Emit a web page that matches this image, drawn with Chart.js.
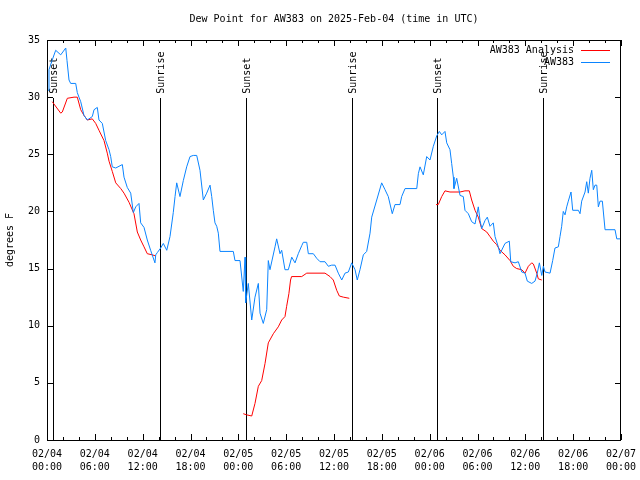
<!DOCTYPE html>
<html>
<head>
<meta charset="utf-8">
<script src="https://cdn.jsdelivr.net/npm/chart.js@4/dist/chart.umd.min.js"></script>
<style>
  html, body { margin: 0; padding: 0; background: #fff; }
  #wrap { width: 640px; height: 480px; }
</style>
</head>
<body>
<div id="wrap"><canvas id="myChart" width="640" height="480"></canvas></div>
<script>
// hours since 02/04 00:00 UTC
const obsHours = [0.13,0.25,0.63,1.09,1.72,2.35,2.51,2.76,2.97,3.60,3.80,4.01,4.23,4.64,5.06,5.68,5.90,6.31,6.52,6.94,
  7.36,7.78,7.99,8.19,8.62,9.45,9.66,10.07,10.50,10.83,11.13,11.54,11.75,12.17,12.58,13.00,13.54,13.64,13.84,14.26,
  14.59,15.02,15.43,15.84,16.06,16.27,16.68,17.10,17.52,17.94,18.35,18.78,19.19,19.61,20.03,20.45,20.66,20.86,21.07,21.29,
  21.49,21.70,23.37,23.58,24.21,24.62,24.84,24.92,25.25,25.68,26.09,26.51,26.72,27.13,27.56,27.76,27.97,28.60,28.81,29.23,
  29.44,29.85,30.27,30.70,31.11,31.52,31.95,32.15,32.58,32.78,33.41,33.83,34.25,34.87,35.29,35.71,36.13,36.54,36.97,37.38,
  37.80,38.22,38.64,38.92,39.26,39.68,40.10,40.52,40.73,41.36,41.98,42.40,42.81,43.31,43.65,44.28,44.49,44.91,46.38,46.58,
  46.79,47.20,47.63,48.04,48.46,48.88,49.21,49.51,49.92,50.14,50.55,50.76,50.97,51.05,51.39,51.81,52.22,52.43,52.85,53.27,
  53.69,54.10,54.32,54.53,54.94,55.23,55.57,55.98,56.20,56.61,56.82,57.45,57.99,58.17,58.71,59.12,59.55,59.96,60.25,60.80,
  61.21,61.50,61.76,62.06,62.26,62.47,63.10,63.43,63.72,64.14,64.35,64.56,64.76,64.98,65.19,65.39,65.73,65.94,66.65,66.86,
  67.07,67.49,67.70,67.90,68.11,68.33,68.53,68.74,68.96,69.16,69.37,69.66,70.00,71.25,71.47,72.00];
const obsDew = [30.6,32.4,33.2,34.1,33.7,34.3,33.2,31.5,31.2,31.2,30.4,30.0,29.6,28.4,28.0,28.3,28.9,29.1,28.0,27.7,
  26.2,25.4,24.8,23.9,23.8,24.1,23.0,22.1,21.6,19.9,20.4,20.7,19.0,18.6,17.5,16.6,15.5,16.2,16.4,16.8,
  17.2,16.6,17.8,19.9,21.3,22.5,21.3,22.7,23.9,24.8,24.9,24.9,23.6,21.0,21.6,22.3,21.3,20.1,19.0,18.7,
  18.1,16.5,16.5,15.7,15.7,13.0,16.0,12.0,13.7,10.5,12.5,13.7,11.1,10.2,11.4,15.7,14.9,16.9,17.6,16.3,
  16.6,14.9,14.9,16.0,15.5,16.3,17.0,17.3,17.3,16.3,16.3,15.9,15.6,15.6,15.2,15.3,15.3,14.6,14.0,14.6,
  14.7,15.5,14.9,14.0,14.9,16.2,16.5,18.1,19.5,21.0,22.5,21.9,21.3,19.8,20.6,20.6,21.3,22.0,22.0,23.3,
  23.9,23.2,24.8,24.5,25.7,26.6,27.0,26.7,27.0,26.0,25.4,24.2,23.0,22.0,22.9,21.4,21.3,20.1,19.8,19.1,
  18.9,20.4,19.2,18.5,19.2,19.5,18.7,19.0,17.8,16.9,16.3,17.2,17.4,15.6,15.5,15.6,14.7,14.6,13.9,13.7,
  13.9,14.6,15.5,14.4,15.2,14.7,14.6,15.7,16.8,16.9,17.8,18.7,20.0,19.7,20.4,20.9,21.7,20.1,20.1,19.8,
  20.9,21.7,22.6,21.6,22.9,23.6,21.9,22.3,22.3,20.4,20.9,20.9,18.4,18.4,17.6,17.6];

// analysis series, null = gap
const anaHours = [0.66,1.72,1.92,2.55,3.39,3.80,4.23,4.64,5.06,5.68,6.11,6.52,7.15,7.56,7.78,8.19,8.62,9.25,9.66,10.29,
  10.91,11.33,11.75,12.17,12.58,13.21,13.64,19.0,
  24.62,25.05,25.68,26.09,26.51,26.93,27.35,27.76,28.39,29.01,29.44,29.85,30.06,30.34,30.55,30.68,31.95,32.58,34.87,35.50,
  35.91,36.34,36.67,37.17,37.92,43.0,
  48.80,49.08,49.51,49.92,50.55,51.81,52.43,52.97,53.27,53.69,54.10,54.53,55.16,55.57,55.98,56.40,56.82,57.45,58.08,58.49,
  58.92,59.55,59.96,60.38,60.80,61.01,61.43,61.63,62.06];
const anaDew = [29.6,28.6,28.7,29.9,30.0,30.0,28.9,28.4,28.0,28.1,27.7,27.1,26.2,25.1,24.4,23.5,22.5,22.0,21.6,20.8,
  19.8,18.2,17.5,16.9,16.3,16.2,16.1,null,
  2.3,2.2,2.1,3.2,4.7,5.2,6.7,8.5,9.3,9.9,10.5,10.8,11.7,12.8,14.0,14.3,14.3,14.6,14.6,14.3,
  14.0,13.1,12.6,12.5,12.4,null,
  20.6,20.6,21.3,21.8,21.7,21.7,21.8,21.8,21.0,20.1,19.5,18.5,18.2,17.8,17.4,17.1,16.6,16.2,15.7,15.2,
  15.0,14.9,14.6,15.2,15.5,15.4,14.6,14.1,14.0];

const sunHours = [0.75, 14.17, 24.96, 38.26, 48.92, 62.22];
const sunLabels = ['Sunset', 'Sunrise', 'Sunset', 'Sunrise', 'Sunset', 'Sunrise'];
const tickDates = ['02/04','02/04','02/04','02/04','02/05','02/05','02/05','02/05','02/06','02/06','02/06','02/06','02/07'];
const tickTimes = ['00:00','06:00','12:00','18:00'];

const FONT = 'DejaVu Sans Mono';
const RED = '#ff0000';
const BLUE = '#0a84ff';

const toXY = (xs, ys) => xs.map((x, i) => ({x: x, y: ys[i]}));

// gnuplot-ish frame, inward ticks, title, sun markers, legend
const gnuplotBits = {
  id: 'gnuplotBits',
  beforeDatasetsDraw(chart) {
    const c = chart.ctx, xs = chart.scales.x, ys = chart.scales.y;
    c.save();
    c.strokeStyle = '#000';
    c.lineWidth = 1;
    c.fillStyle = '#000';
    c.font = '10px ' + FONT;
    sunHours.forEach((h, i) => {
      const px = Math.round(xs.getPixelForValue(h)) + 0.5;
      c.beginPath();
      c.moveTo(px, Math.round(ys.getPixelForValue(29.9)));
      c.lineTo(px, ys.getPixelForValue(0));
      c.stroke();
      c.save();
      c.translate(px + 1, ys.getPixelForValue(30.3));
      c.rotate(-Math.PI / 2);
      c.textAlign = 'left';
      c.textBaseline = 'middle';
      c.fillText(sunLabels[i], 0, 0);
      c.restore();
    });
    c.restore();
  },
  afterDraw(chart) {
    const c = chart.ctx, a = chart.chartArea, xs = chart.scales.x, ys = chart.scales.y;
    c.save();
    c.strokeStyle = '#000';
    c.lineWidth = 1;
    c.strokeRect(Math.round(a.left) + 0.5, Math.round(a.top) + 0.5, Math.round(a.right - a.left) - 1, Math.round(a.bottom - a.top));
    c.beginPath();
    for (let h = 0; h <= 72; h += 2) {
      const px = Math.round(xs.getPixelForValue(h)) + 0.5;
      const len = h % 6 === 0 ? 6 : 3;
      c.moveTo(px, a.bottom); c.lineTo(px, a.bottom - len);
      c.moveTo(px, a.top); c.lineTo(px, a.top + len);
    }
    for (let v = 0; v <= 35; v += 5) {
      const py = Math.round(ys.getPixelForValue(v)) + 0.5;
      c.moveTo(a.left, py); c.lineTo(a.left + 6, py);
      c.moveTo(a.right, py); c.lineTo(a.right - 6, py);
    }
    c.stroke();

    c.fillStyle = '#000';
    c.font = '10px ' + FONT;
    c.textAlign = 'center';
    c.textBaseline = 'middle';
    c.fillText('Dew Point for AW383 on 2025-Feb-04 (time in UTC)', (a.left + a.right) / 2, 19);

    c.save();
    c.translate(10, (a.top + a.bottom) / 2);
    c.rotate(-Math.PI / 2);
    c.fillText('degrees F', 0, 0);
    c.restore();

    // legend
    const rows = [['AW383 Analysis', RED, 50], ['AW383', BLUE, 62]];
    c.textAlign = 'right';
    rows.forEach(r => {
      c.fillStyle = '#000';
      c.fillText(r[0], 574, r[2]);
      c.strokeStyle = r[1];
      c.beginPath();
      c.moveTo(581, r[2] + 0.5);
      c.lineTo(610, r[2] + 0.5);
      c.stroke();
    });
    c.restore();
  }
};

const ctx = document.getElementById('myChart').getContext('2d');
const myChart = new Chart(ctx, {
  type: 'line',
  data: {
    datasets: [
      {
        label: 'AW383',
        data: toXY(obsHours, obsDew),
        borderColor: BLUE,
        borderWidth: 1,
        pointRadius: 0,
        tension: 0,
        fill: false
      },
      {
        label: 'AW383 Analysis',
        data: toXY(anaHours, anaDew),
        borderColor: RED,
        borderWidth: 1,
        pointRadius: 0,
        spanGaps: false,
        fill: false
      }
    ]
  },
  options: {
    responsive: false,
    animation: false,
    devicePixelRatio: 1,
    layout: { padding: { top: 40, right: 19, left: 0, bottom: 0 } },
    plugins: { legend: { display: false }, tooltip: { enabled: false }, title: { display: false } },
    scales: {
      x: {
        type: 'linear',
        min: 0,
        max: 72,
        afterFit: s => { s.height = 40; s.paddingLeft = 0; s.paddingRight = 0; },
        grid: { display: false, drawTicks: false },
        border: { display: false },
        ticks: {
          stepSize: 6,
          padding: 8,
          maxRotation: 0,
          autoSkip: false,
          color: '#000',
          font: { family: FONT, size: 10, lineHeight: 1.3 },
          callback: v => [tickDates[v / 6], tickTimes[(v / 6) % 4]]
        }
      },
      y: {
        min: 0,
        max: 35,
        afterFit: s => { s.width = 47; s.paddingTop = 0; s.paddingBottom = 0; },
        grid: { display: false, drawTicks: false },
        border: { display: false },
        ticks: {
          stepSize: 5,
          padding: 7,
          color: '#000',
          font: { family: FONT, size: 10 }
        }
      }
    }
  },
  plugins: [gnuplotBits]
});
</script>
</body>
</html>
